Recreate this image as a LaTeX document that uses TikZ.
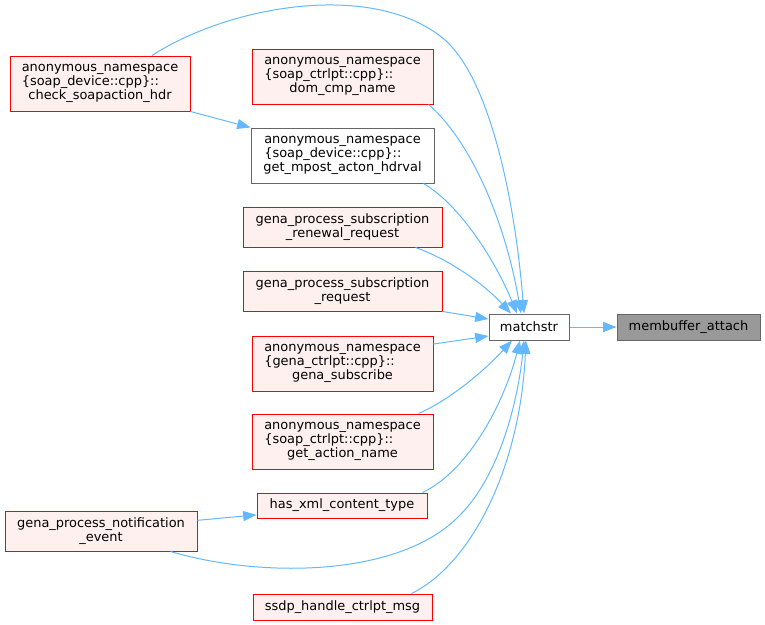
\documentclass[tikz,border=0pt]{standalone}
\usepackage{fontspec}
\setmainfont{DejaVu Sans}
\usepackage{calc}
\usetikzlibrary{arrows.meta}
\definecolor{edgeblue}{HTML}{63B8FF}
\definecolor{boxred}{HTML}{FF0000}
\definecolor{boxfill}{HTML}{FFF0F0}
\definecolor{boxgray}{HTML}{666666}
\definecolor{hlfill}{HTML}{999999}
\newcommand{\nsline}[1]{\makebox[\widthof{anonymous\_namespace}][l]{#1}}

\begin{document}
\begin{tikzpicture}[x=0.75pt, y=-0.75pt,
	fnbox/.style={draw=boxred, fill=boxfill, line width=0.75pt, align=center, inner sep=0pt, font=\fontsize{9.7}{10.7}\selectfont},
	graybox/.style={fnbox, draw=boxgray, fill=white},
	hlbox/.style={fnbox, draw=boxgray, fill=hlfill},
	boxsize/.style 2 args={minimum width=#1*0.75pt, minimum height=#2*0.75pt},
	call/.style={draw=edgeblue, line width=0.75pt, -{Triangle[length=10pt, width=7.5pt]}}]
			\useasboundingbox (0,0) rectangle (765,625);
			% Nodes
			\node[fnbox, boxsize={180}{55}] (check) at (100,83.5) {anonymous\_namespace\\\nsline{\{soap\_device::cpp\}::}\\check\_soapaction\_hdr};
			\node[fnbox, boxsize={181}{55}] (dom) at (342.5,76.5) {anonymous\_namespace\\\nsline{\{soap\_ctrlpt::cpp\}::}\\dom\_cmp\_name};
			\node[graybox, boxsize={183}{55}] (mpost) at (342.5,155.5) {anonymous\_namespace\\\nsline{\{soap\_device::cpp\}::}\\get\_mpost\_acton\_hdrval};
			\node[fnbox, boxsize={199}{40}] (renewal) at (342.5,227) {gena\_process\_subscription\\\_renewal\_request};
			\node[fnbox, boxsize={199}{40}] (subreq) at (342.5,291) {gena\_process\_subscription\\\_request};
			\node[fnbox, boxsize={181}{55}] (subscribe) at (342.5,363.5) {anonymous\_namespace\\\nsline{\{gena\_ctrlpt::cpp\}::}\\gena\_subscribe};
			\node[fnbox, boxsize={181}{55}] (action) at (342.5,441.5) {anonymous\_namespace\\\nsline{\{soap\_ctrlpt::cpp\}::}\\get\_action\_name};
			\node[fnbox, boxsize={170}{25}] (hasxml) at (342,505.5) {has\_xml\_content\_type};
			\node[fnbox, boxsize={192}{40}] (notif) at (101,531) {gena\_process\_notification\\\_event};
			\node[fnbox, boxsize={179}{26}] (ssdp) at (342.5,607) {ssdp\_handle\_ctrlpt\_msg};
			\node[graybox, boxsize={80}{26}] (matchstr) at (529,327) {matchstr};
			\node[hlbox, boxsize={143}{26}] (membuffer) at (688.5,327) {membuffer\_attach};
			% Calls
			\draw[call] ([xshift=39pt]check.north) .. controls (230,5) and (375,-20) .. (445,40) .. controls (490,80) and (515,200) .. ([xshift=-3.75pt]matchstr.north);
			\draw[call] ([xshift=-3.75pt]dom.south east) .. controls (470,140) and (505,220) .. ([xshift=-6pt]matchstr.north);
			\draw[call] ([xshift=-8.25pt]mpost.south east) .. controls (460,205) and (495,260) .. ([xshift=-9pt]matchstr.north);
			\draw[call] ([xshift=-20.25pt]renewal.south east) .. controls (445,258) and (480,280) .. ([xshift=-13.5pt]matchstr.north);
			\draw[call] (subreq.south east) -- ([yshift=6pt]matchstr.west);
			\draw[call] ([yshift=14.6pt]subscribe.east) -- ([yshift=-6.75pt]matchstr.west);
			\draw[call] ([xshift=-11.25pt]action.north east) .. controls (450,400) and (485,370) .. ([xshift=-12.75pt]matchstr.south);
			\draw[call] ([xshift=-3.75pt]hasxml.north east) .. controls (470,470) and (505,400) .. ([xshift=-6.75pt]matchstr.south);
			\draw[call] ([xshift=-20.25pt]notif.south east) .. controls (260,578) and (400,578) .. (460,515) .. controls (500,475) and (518,400) .. ([xshift=-3.75pt]matchstr.south);
			\draw[call] ([xshift=-15.75pt]ssdp.north east) .. controls (470,565) and (520,470) .. ([xshift=-2.25pt]matchstr.south);
			\draw[call] (check.south east) -- (mpost.north west);
			\draw[call] ([yshift=8pt]notif.east) -- ([yshift=-7pt]hasxml.west);
			\draw[call] (matchstr) -- (membuffer);
		\end{tikzpicture}
\end{document}
